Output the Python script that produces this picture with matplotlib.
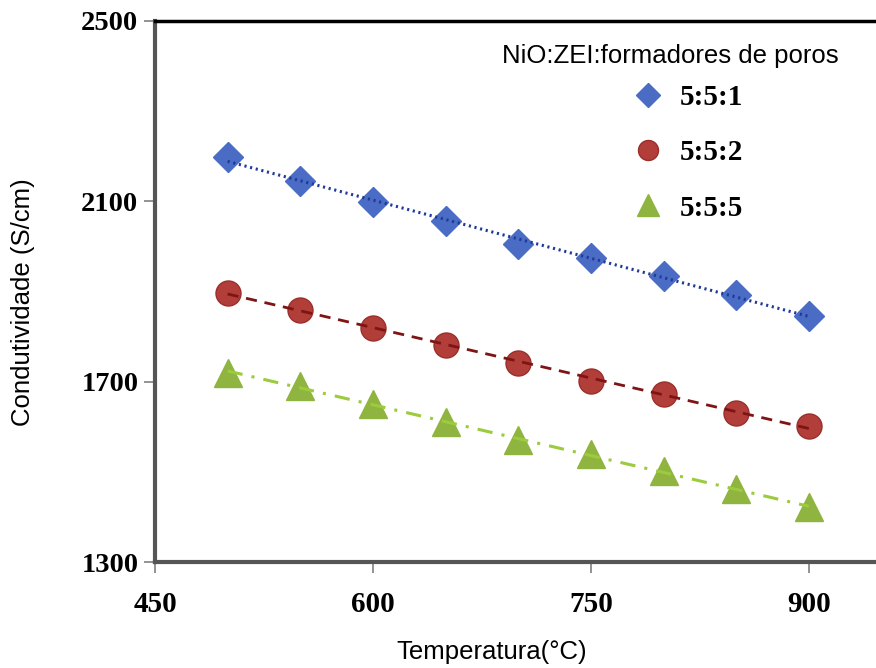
import numpy as np
import matplotlib
matplotlib.use("Agg")
import matplotlib.pyplot as plt
from matplotlib.lines import Line2D

# ---- data ----
temperature = [500, 550, 600, 650, 700, 750, 800, 850, 900]
cond_551 = [2199, 2145, 2098, 2056, 2005, 1975, 1934, 1892, 1846]
cond_552 = [1896, 1860, 1820, 1782, 1742, 1702, 1673, 1631, 1602]
cond_555 = [1720, 1690, 1650, 1610, 1570, 1540, 1501, 1461, 1421]
series_labels = ["5:5:1", "5:5:2", "5:5:5"]
legend_title = "NiO:ZEI:formadores de poros"
x_ticks = [450, 600, 750, 900]
y_ticks = [1300, 1700, 2100, 2500]

W, H = 876, 668
fig = plt.figure(figsize=(W / 100, H / 100), dpi=100)
ax = fig.add_axes([155 / W, 1 - 562 / H, 500 * 1.4529 / W, 541 / H])

serif_bold = dict(family="Liberation Serif", weight="bold")

styles = [
    dict(marker="D", ms=15.5, mfc="#4A6CC4", mec="#4A6CC4",
         lc="#1F3A9A", ls=(0, (0.7, 1.2)), lw=2.2),
    dict(marker="o", ms=18, mfc="#B23E3A", mec="#9A2E2B",
         lc="#7E1414", ls=(0, (4, 2.8)), lw=2.0),
    dict(marker="^", ms=20, mfc="#8FB440", mec="#8FB440",
         lc="#9CCB3E", ls=(0, (5, 3, 1, 3)), lw=2.2),
]
data = [cond_551, cond_552, cond_555]
x = np.array(temperature, dtype=float)

handles = []
for vals, st, lab in zip(data, styles, series_labels):
    y = np.array(vals, dtype=float)
    ax.plot(x, y, linestyle="none", marker=st["marker"], ms=st["ms"],
            mfc=st["mfc"], mec=st["mec"], mew=1, zorder=2)
    k, b = np.polyfit(x, y, 1)
    ax.plot(x, k * x + b, color=st["lc"], linestyle=st["ls"],
            lw=st["lw"], zorder=3)
    handles.append(Line2D([], [], linestyle="none", marker=st["marker"],
                          ms=st["ms"], mfc=st["mfc"], mec=st["mec"],
                          mew=1, label=lab))

ax.set_xlim(450, 950)
ax.set_ylim(1300, 2500)
ax.set_xticks(x_ticks)
ax.set_yticks(y_ticks)
ax.set_xticklabels([str(v) for v in x_ticks], fontdict=serif_bold, fontsize=21)
ax.set_yticklabels([str(v) for v in y_ticks], fontdict=serif_bold, fontsize=20.5)
ax.tick_params(axis="x", length=8, width=1.2, color="#808080", pad=13,
               direction="out")
ax.tick_params(axis="y", length=8, width=1.2, color="#808080", pad=4,
               direction="out")

for side in ["left", "bottom"]:
    ax.spines[side].set_color("#555555")
    ax.spines[side].set_linewidth(3)
ax.spines["top"].set_color("black")
ax.spines["top"].set_linewidth(2.5)
ax.spines["right"].set_visible(False)

fig.text(23 / W, 1 - 302 / H, "Condutividade (S/cm)", rotation=90,
         ha="center", va="center", family="Liberation Sans", fontsize=18.5)
fig.text(492 / W, 1 - 652 / H, "Temperatura(°C)", ha="center", va="center",
         family="Liberation Sans", fontsize=18.5)
fig.text(670 / W, 1 - 56 / H, legend_title, ha="center", va="center",
         family="Liberation Sans", fontsize=18.5)

leg = ax.legend(handles=handles, loc="upper left",
                bbox_to_anchor=(633 / W, 1 - 84 / H),
                bbox_transform=fig.transFigure, frameon=False,
                prop=dict(family="Liberation Serif", weight="bold", size=21),
                markerscale=0.8, handlelength=1.0, handletextpad=0.6,
                labelspacing=0.97, borderpad=0, borderaxespad=0)

fig.savefig("out.png", dpi=100)
